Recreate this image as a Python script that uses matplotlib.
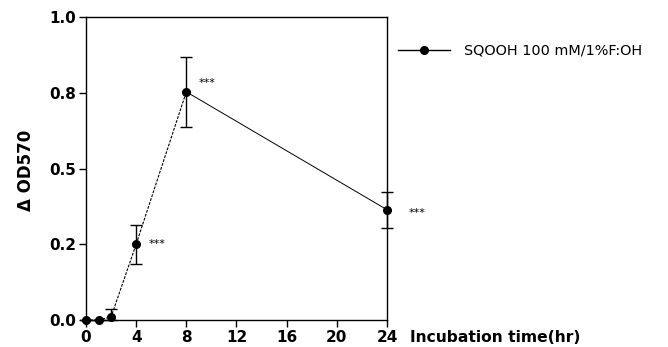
import matplotlib
matplotlib.use("Agg")
import matplotlib.pyplot as plt
from matplotlib.ticker import FormatStrFormatter

plt.rcParams["font.family"] = ["DejaVu Sans"]

# incubation time (hr) and delta OD570
hours = [0, 1, 2, 4, 8, 24]
delta_od = [0.0, 0.0, 0.01, 0.25, 0.753, 0.364]
err_low = [0.0, 0.0, 0.01, 0.065, 0.115, 0.06]
err_high = [0.0, 0.0, 0.025, 0.065, 0.115, 0.06]
sig_hours = [4, 8, 24]
sig_marks = ["***", "***", "***"]
series_label = "SQOOH 100 mM/1%F:OH"

fig = plt.figure(figsize=(6.68, 3.47), dpi=100)
ax = fig.add_axes([0.1287, 0.0778, 0.4506, 0.8732])

# rising part drawn dashed like the scan, decay part solid
ax.plot(hours[:5], delta_od[:5], color="black", lw=0.8, ls=(0, (2.5, 1.2)))
ax.plot(hours[4:], delta_od[4:], color="black", lw=0.7)
ax.errorbar(hours, delta_od, yerr=[err_low, err_high], fmt="o", color="black",
            ms=5.5, elinewidth=1.0, capsize=4, capthick=1.0,
            clip_on=False, zorder=3)

offsets = {4: (1.0, 0.0), 8: (1.0, 0.03), 24: (1.7, -0.01)}
for h, m in zip(sig_hours, sig_marks):
    dx, dy = offsets[h]
    y = delta_od[hours.index(h)]
    ax.text(h + dx, y + dy, m, fontsize=8, va="center", ha="left")

ax.set_xlim(0, 24)
ax.set_ylim(0, 1.0)
ax.set_xticks([0, 4, 8, 12, 16, 20, 24])
ax.set_yticks([0.0, 0.25, 0.5, 0.75, 1.0])
ax.yaxis.set_major_formatter(FormatStrFormatter("%.1f"))
ax.tick_params(direction="out", length=5, width=1.0, labelsize=11, pad=2)
for lab in ax.get_xticklabels() + ax.get_yticklabels():
    lab.set_fontweight("bold")
for sp in ax.spines.values():
    sp.set_linewidth(1.0)

ax.set_ylabel("Δ OD570", fontsize=12, fontweight="bold")
ax.yaxis.set_label_coords(-0.17, 0.495)
ax.set_xlabel("Incubation time(hr)", fontsize=11.2, fontweight="bold",
              ha="left", va="center")
ax.xaxis.set_label_coords(1.076, -0.058)

# legend handle: line with marker
h_line, = ax.plot([], [], color="black", lw=1.0, marker="o", ms=5.5)
fig.legend([h_line], [series_label], loc="center left",
           bbox_to_anchor=(398 / 668, 1 - 51 / 347), frameon=False,
           fontsize=10.4, handlelength=3.6, handletextpad=1.0,
           borderpad=0, borderaxespad=0)

fig.savefig("out.png", dpi=100)
